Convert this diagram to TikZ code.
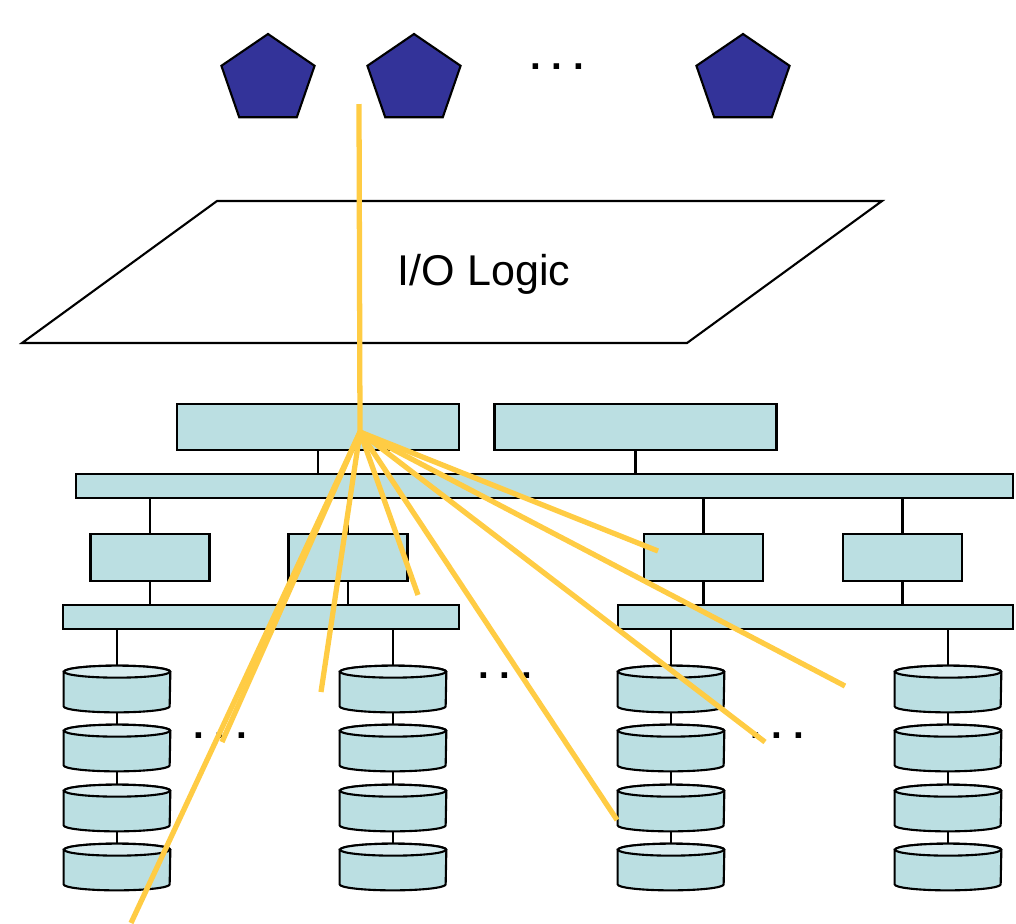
\documentclass[tikz,border=0pt]{standalone}
\usepackage{fontspec}
\setmainfont{Liberation Sans}
\usepackage{xcolor}
\usepackage{tikz}
\usetikzlibrary{shapes,positioning,calc}
\definecolor{clientblue}{RGB}{51, 51, 153}
\definecolor{unitteal}{RGB}{187, 223, 226}
\definecolor{disktop}{RGB}{216, 236, 239}
\definecolor{traceyellow}{RGB}{255, 204, 68}

\tikzset{
    client/.style={regular polygon, regular polygon sides=5, fill=clientblue, draw=black, line width=1.2pt, inner sep=0pt, minimum size=18.4mm, xscale=1.065},
    unit/.style={rectangle, fill=unitteal, draw=black, line width=1.2pt, inner sep=0pt},
    ctrl/.style={unit, minimum width=56.4mm, minimum height=9.2mm},
    adapter/.style={unit, minimum width=23.8mm, minimum height=9.4mm},
    bus/.style={unit, minimum height=4.8mm},
    diskslot/.style={rectangle, inner sep=0pt, minimum width=21.2mm, minimum height=9.2mm},
    wire/.style={line width=1.2pt},
    trace/.style={line width=3pt, color=traceyellow},
    more/.style={font=\fontsize{22}{22}\selectfont\bfseries, anchor=base, inner sep=0pt}
}

\begin{document}
\begin{tikzpicture}[x=0.2mm, y=-0.2mm]
        \useasboundingbox (0,0) rectangle (1016,923);

        % Clients
        \node[client] (cl1) at (268,80) {};
        \node[client] (cl2) at (414,80) {};
        \node[client] (cl3) at (743,80) {};
        \node[more] (clmore) at (557,69) {.\ .\ .};

        % I/O logic layer
        \draw[line width=1.2pt, fill=white] (22,343) -- (217,201) -- (882,201) -- (687,343) -- cycle;
        \node[font=\fontsize{24.5}{29}\selectfont] (iologic) at (484,274) {I/O Logic};

        % Controllers and main bus
        \node[ctrl] (ctl1) at (318,427) {};
        \node[ctrl] (ctl2) at (635.5,427) {};
        \node[bus, minimum width=187.4mm] (mainbus) at (544.5,486) {};
        \draw[wire] (ctl1.south) -- (ctl1.south |- mainbus.north);
        \draw[wire] (ctl2.south) -- (ctl2.south |- mainbus.north);

        % Adapters and disk buses
        \node[adapter] (ad1) at (150,557.5) {};
        \node[adapter] (ad2) at (348,557.5) {};
        \node[adapter] (ad3) at (703.5,557.5) {};
        \node[adapter] (ad4) at (902.5,557.5) {};
        \node[bus, minimum width=79.2mm] (busL) at (261,617) {};
        \node[bus, minimum width=79mm] (busR) at (815.5,617) {};
        \foreach \a in {ad1,ad2,ad3,ad4}
            \draw[wire] (\a.north) -- (\a.north |- mainbus.south);
        \draw[wire] (ad1.south) -- (ad1.south |- busL.north);
        \draw[wire] (ad2.south) -- (ad2.south |- busL.north);
        \draw[wire] (ad3.south) -- (ad3.south |- busR.north);
        \draw[wire] (ad4.south) -- (ad4.south |- busR.north);

        % Disk stacks
        \foreach \col/\cx in {1/117, 2/393, 3/671, 4/948}{
            \foreach \row/\cy in {1/689, 2/748, 3/808, 4/867}{
                \node[diskslot] (d\col\row) at (\cx,\cy) {};
                \draw[wire, fill=unitteal] ([yshift=-1.2mm]d\col\row.north west) -- ([yshift=1.2mm]d\col\row.south west)
                    arc[start angle=180, end angle=360, x radius=10.6mm, y radius=1.2mm]
                    -- ([yshift=-1.2mm]d\col\row.north east)
                    arc[start angle=0, end angle=180, x radius=10.6mm, y radius=1.2mm] -- cycle;
                \draw[wire, fill=disktop] ([yshift=-1.2mm]d\col\row.north) ellipse[x radius=10.6mm, y radius=1.2mm];
            }
            \foreach \row [evaluate=\row as \nxt using int(\row+1)] in {1,2,3}
                \draw[wire] (d\col\row.south) -- (d\col\nxt.north);
        }
        \draw[wire] (d11.north) -- (d11.north |- busL.south);
        \draw[wire] (d21.north) -- (d21.north |- busL.south);
        \draw[wire] (d31.north) -- (d31.north |- busR.south);
        \draw[wire] (d41.north) -- (d41.north |- busR.south);
        \node[more] (dmore1) at (505,678) {.\ .\ .};
        \node[more] (dmore2) at (220,738) {.\ .\ .};
        \node[more] (dmore3) at (777,738) {.\ .\ .};

        % Request paths fanning out from the controller
        \coordinate (src) at (359,104);
        \coordinate (hub) at (360,432);
        \coordinate (p1) at (131,923);
        \coordinate (p2) at (222,742);
        \coordinate (p3) at (321,692);
        \coordinate (p4) at (418,595);
        \coordinate (p5) at (617,820);
        \coordinate (p6) at (658,551);
        \coordinate (p7) at (765,742);
        \coordinate (p8) at (845,686);
        \draw[trace] (src) -- (hub);
        \foreach \p in {p1,p2,p3,p4,p5,p6,p7,p8}
            \draw[trace] (hub) -- (\p);
\end{tikzpicture}
\end{document}
